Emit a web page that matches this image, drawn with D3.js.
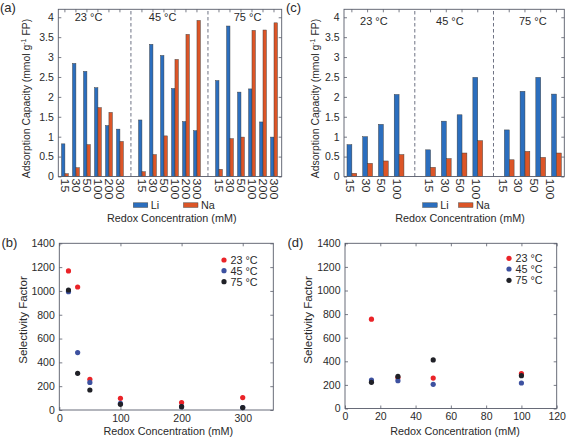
<!DOCTYPE html>
<html><head><meta charset="utf-8">
<script src="https://cdn.jsdelivr.net/npm/d3@7"></script>
<style>
body{margin:0;background:#fff}
svg{display:block}
text{font-family:"Liberation Sans",Arial,Helvetica,sans-serif;fill:#2a2a2a}
</style>
</head><body>
<svg id="chart" width="567" height="439"></svg>
<script>
// ---------- data ----------
const temps = ["23 °C", "45 °C", "75 °C"];
const seriesNames = ["Li", "Na"];
// panel (a)
const concA = ["15", "30", "50", "100", "200", "300"];
const liA = [[0.82, 2.84, 2.64, 2.23, 1.28, 1.19], [1.42, 3.32, 3.04, 2.21, 1.38, 1.15], [2.41, 3.78, 2.12, 2.20, 1.37, 0.99]];
const naA = [[0.07, 0.22, 0.80, 1.73, 1.61, 0.88], [0.12, 0.55, 1.02, 2.94, 3.57, 3.92], [0.18, 0.95, 0.99, 3.67, 3.68, 3.86]];
// panel (c)
const concC = ["15", "30", "50", "100"];
const liC = [[0.80, 1.00, 1.31, 2.06], [0.67, 1.39, 1.55, 2.49], [1.17, 2.14, 2.49, 2.07]];
const naC = [[0.08, 0.33, 0.39, 0.55], [0.23, 0.45, 0.59, 0.90], [0.42, 0.63, 0.48, 0.59]];
const capTicks = [0, 0.5, 1, 1.5, 2, 2.5, 3, 3.5, 4];
// panel (b)
const concB = [15, 30, 50, 100, 200, 300];
const selB23 = [1168, 1033, 258, 98, 62, 104];
const selB45 = [994, 482, 232, 56, 28, 20];
const selB75 = [1008, 308, 168, 48, 28, 20];
const xTicksB = [0, 100, 200, 300];
// panel (d)
const concD = [15, 30, 50, 100];
const selD23 = [757, 262, 258, 295];
const selD45 = [241, 236, 205, 216];
const selD75 = [222, 272, 412, 278];
const xTicksD = [0, 20, 40, 60, 80, 100, 120];
const selTicks = [0, 200, 400, 600, 800, 1000, 1200, 1400];

// ---------- style ----------
const AX = "#585c6a";
const BAR_COL = ["#2b6ebe", "#dc5527"];
const DOT_COL = ["#ea2328", "#3d51a0", "#202127"];
const FS = 10.8;

const svg = d3.select("#chart");

function box(g, x, y) {
  const [xa, xb] = x.range(), [ya, yb] = y.range();
  g.append("rect").attr("x", Math.min(xa, xb)).attr("y", Math.min(ya, yb))
    .attr("width", Math.abs(xb - xa)).attr("height", Math.abs(yb - ya))
    .attr("fill", "none").attr("stroke", AX).attr("stroke-width", 0.9);
}

function yAxes(g, x, y, ticks, fmt) {
  const [xl, xr] = x.range();
  const ax = g.append("g").attr("transform", `translate(${xl},0)`)
    .call(d3.axisLeft(y).tickValues(ticks).tickFormat(fmt).tickSizeInner(-3).tickSizeOuter(0).tickPadding(4.5));
  ax.select(".domain").remove();
  ax.selectAll("line").attr("stroke", AX).attr("stroke-width", 0.8);
  ax.selectAll("text").attr("font-size", 10.5).attr("fill", "#2a2a2a").attr("font-family", null);
  const ax2 = g.append("g").attr("transform", `translate(${xr},0)`)
    .call(d3.axisRight(y).tickValues(ticks).tickFormat("").tickSizeInner(-3).tickSizeOuter(0));
  ax2.select(".domain").remove();
  ax2.selectAll("line").attr("stroke", AX).attr("stroke-width", 0.8);
}

// ---------- bar panels ----------
function barPanel(cfg) {
  const g = svg.append("g");
  const n = cfg.conc.length;
  const pos = (gi, i) => gi * (n + 1) + i + 1;
  const x = d3.scaleLinear().domain(cfg.xDomain).range(cfg.xRange);
  const y = d3.scaleLinear().domain([0, 4.2]).range([176.5, 9.3]);
  const bw = 0.31;

  // dashed separators
  for (let gi = 1; gi < temps.length; gi++) {
    g.append("line").attr("x1", x(gi * (n + 1))).attr("x2", x(gi * (n + 1)))
      .attr("y1", y(0)).attr("y2", y(4.2))
      .attr("stroke", "#5d6376").attr("stroke-width", 0.9).attr("stroke-dasharray", "3.5,2.5");
  }
  // bars
  const recs = [];
  temps.forEach((t, gi) => cfg.conc.forEach((c, i) => {
    recs.push({s: 0, p: pos(gi, i), v: cfg.li[gi][i]});
    recs.push({s: 1, p: pos(gi, i), v: cfg.na[gi][i]});
  }));
  g.selectAll("rect.bar").data(recs).join("rect").attr("class", "bar")
    .attr("x", d => d.s === 0 ? x(d.p - bw) : x(d.p))
    .attr("width", x(bw) - x(0))
    .attr("y", d => y(d.v)).attr("height", d => y(0) - y(d.v))
    .attr("fill", d => BAR_COL[d.s]).attr("stroke", "#3a3a3a").attr("stroke-width", 0.45);

  box(g, x, y);
  yAxes(g, x, y, capTicks, d3.format("~g"));

  // x ticks (bottom & top, inward) and rotated labels
  temps.forEach((t, gi) => cfg.conc.forEach((c, i) => {
    const px = x(pos(gi, i));
    g.append("line").attr("x1", px).attr("x2", px).attr("y1", y(0)).attr("y2", y(0) - 3).attr("stroke", AX).attr("stroke-width", 0.8);
    g.append("line").attr("x1", px).attr("x2", px).attr("y1", y(4.2)).attr("y2", y(4.2) + 3).attr("stroke", AX).attr("stroke-width", 0.8);
    const lx = x(pos(gi, i) + cfg.labelShift[gi]);
    g.append("text").attr("transform", `translate(${lx},${y(0) + 2}) rotate(90) scale(1.25,1)`)
      .attr("dy", "0.36em").attr("font-size", 10).text(c);
  }));
  // temperature labels
  temps.forEach((t, gi) => {
    g.append("text").attr("x", x(gi * (n + 1) + (n + 1) / 2 + cfg.tempShift[gi]))
      .attr("y", cfg.tempY).attr("text-anchor", "middle").attr("font-size", 11).text(t);
  });
  // y label
  const yl = g.append("text").attr("transform", `translate(${cfg.yLabX},${98.5}) rotate(-90)`)
    .attr("text-anchor", "middle").attr("font-size", 10.4);
  yl.append("tspan").text("Adsorption Capacity (mmol g");
  yl.append("tspan").attr("dy", -3.5).attr("font-size", 7).text("-1");
  yl.append("tspan").attr("dy", 3.5).text(" FP)");
  // legend
  seriesNames.forEach((s, si) => {
    const lx = cfg.legX[si];
    g.append("rect").attr("x", lx).attr("y", 202.8).attr("width", 14.5).attr("height", 4.6)
      .attr("fill", BAR_COL[si]).attr("stroke", "#3a3a3a").attr("stroke-width", 0.45);
    g.append("text").attr("x", lx + 17.5).attr("y", 208.6).attr("font-size", FS).text(s);
  });
  // x title
  g.append("text").attr("x", cfg.titleX).attr("y", 221.5).attr("text-anchor", "middle")
    .attr("font-size", FS).text("Redox Concentration (mM)");
  // panel letter
  g.append("text").attr("x", cfg.letterX).attr("y", 12).attr("font-size", 13).text(cfg.letter);
}

barPanel({letter: "(a)", letterX: 0, conc: concA, li: liA, na: naA,
  xDomain: [0.4, 20.7], xRange: [58.3, 281.7], labelShift: [0, 0, 0],
  tempShift: [-0.35, -0.62, 0.1], tempY: 20.8, yLabX: 29.5,
  legX: [133.3, 183.5], titleX: 171.7});

barPanel({letter: "(c)", letterX: 286, conc: concC, li: liC, na: naC,
  xDomain: [0.5, 14.5], xRange: [344, 564.3], labelShift: [-0.15, -0.13, -0.45],
  tempShift: [-0.1, -0.27, 0], tempY: 25, yLabX: 318.5,
  legX: [422.7, 458.5], titleX: 460});

// ---------- scatter panels ----------
function scatterPanel(cfg) {
  const g = svg.append("g");
  const x = d3.scaleLinear().domain(cfg.xDomain).range(cfg.xRange);
  const y = d3.scaleLinear().domain([0, 1400]).range([cfg.yBottom, 243.3]);
  box(g, x, y);
  yAxes(g, x, y, selTicks, d3.format("d"));
  const ax = g.append("g").attr("transform", `translate(0,${cfg.yBottom})`)
    .call(d3.axisBottom(x).tickValues(cfg.xTicks).tickFormat(d3.format("d")).tickSizeInner(-3).tickSizeOuter(0).tickPadding(4.5));
  ax.select(".domain").remove();
  ax.selectAll("line").attr("stroke", AX).attr("stroke-width", 0.8);
  ax.selectAll("text").attr("font-size", 10.5).attr("fill", "#2a2a2a").attr("font-family", null);
  const ax2 = g.append("g").attr("transform", `translate(0,243.3)`)
    .call(d3.axisTop(x).tickValues(cfg.xTicks).tickFormat("").tickSizeInner(-3).tickSizeOuter(0));
  ax2.select(".domain").remove();
  ax2.selectAll("line").attr("stroke", AX).attr("stroke-width", 0.8);

  cfg.series.forEach((vals, si) => {
    g.selectAll(null).data(vals).join("circle")
      .attr("cx", (d, i) => x(cfg.conc[i])).attr("cy", d => y(d)).attr("r", 2.6)
      .attr("fill", DOT_COL[si]);
  });
  // legend
  temps.forEach((t, si) => {
    const ly = cfg.legY[si];
    g.append("circle").attr("cx", cfg.legX).attr("cy", ly).attr("r", 2.6).attr("fill", DOT_COL[si]);
    g.append("text").attr("x", cfg.legX + 6.5).attr("y", ly + 3.9).attr("font-size", FS).text(t);
  });
  g.append("text").attr("transform", `translate(${cfg.yLabX},320) rotate(-90)`)
    .attr("text-anchor", "middle").attr("font-size", 11.5).text("Selectivity Factor");
  g.append("text").attr("x", cfg.titleX).attr("y", 434.5).attr("text-anchor", "middle")
    .attr("font-size", FS).text("Redox Concentration (mM)");
  g.append("text").attr("x", cfg.letterX).attr("y", 246.5).attr("font-size", 13).text(cfg.letter);
}

scatterPanel({letter: "(b)", letterX: 1.5, xDomain: [0, 350], xRange: [59.3, 273.3], yBottom: 410,
  xTicks: xTicksB, conc: concB, series: [selB23, selB45, selB75],
  legX: 224, legY: [260, 270.7, 281.7], yLabX: 27, titleX: 168.3});

scatterPanel({letter: "(d)", letterX: 287.5, xDomain: [0, 120], xRange: [345, 556.7], yBottom: 408.5,
  xTicks: xTicksD, conc: concD, series: [selD23, selD45, selD75],
  legX: 509, legY: [258.3, 269, 280.3], yLabX: 311.5, titleX: 455});
</script>
</body></html>
